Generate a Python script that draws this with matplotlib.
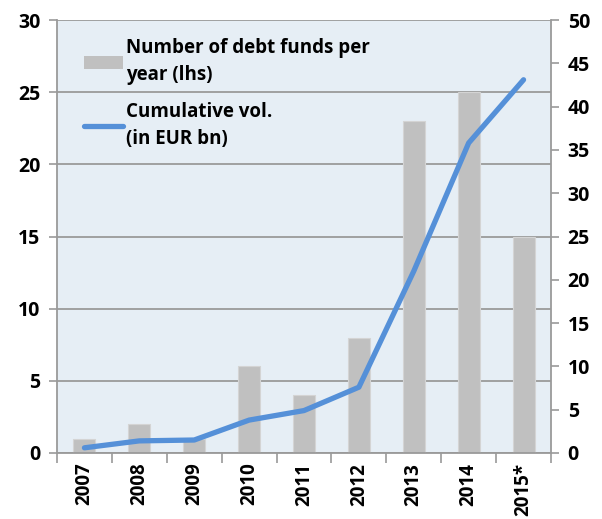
import matplotlib
matplotlib.use("Agg")
import matplotlib.pyplot as plt
from matplotlib.patches import Patch
from matplotlib.lines import Line2D
import numpy as np

years = ["2007", "2008", "2009", "2010", "2011", "2012", "2013", "2014", "2015*"]
funds = [1, 2, 1, 6, 4, 8, 23, 25, 15]
cum_vol = [0.6, 1.4, 1.5, 3.8, 4.9, 7.6, 21.0, 35.8, 43.1]
left_ticks = [0, 5, 10, 15, 20, 25, 30]
right_ticks = [0, 5, 10, 15, 20, 25, 30, 35, 40, 45, 50]

plt.rcParams['font.family'] = ['Open Sans', 'DejaVu Sans']
plt.rcParams['font.weight'] = 'bold'

fig = plt.figure(figsize=(6.02, 5.19), dpi=100)
ax = fig.add_axes([57/602, 1-453/519, (551-57)/602, (453-20)/519])
ax.set_facecolor("#e6eef5")
x = np.arange(len(years))
ax.bar(x, funds, width=0.4, color="#c0c0c0", edgecolor="#d4d4d4", linewidth=0.8, zorder=2)
ax.set_xlim(-0.5, len(years) - 0.5)
ax.set_ylim(0, 30)
ax.set_yticks(left_ticks)
ax.yaxis.grid(True, color="#9a9a9a", linewidth=1.3, zorder=1)
ax.set_axisbelow(True)
ax.set_xticks(x)
ax.set_xticklabels(years, rotation=90, fontsize=13.5, fontweight='bold')
ax.set_xticks(np.arange(-0.5, len(years), 1), minor=True)
ax.tick_params(axis='x', which='major', length=0, pad=7)
ax.tick_params(axis='x', which='minor', length=7, color="#9a9a9a", width=1.2)
ax.tick_params(axis='y', length=6, color="#9a9a9a", width=1.2, labelsize=14, pad=6)
for lab in ax.get_yticklabels():
    lab.set_fontweight('bold')
for s in ['left', 'right', 'bottom', 'top']:
    ax.spines[s].set_color("#9a9a9a")
    ax.spines[s].set_linewidth(1.3)
ax.spines['top'].set_visible(False)

ax2 = ax.twinx()
ax2.plot(x, cum_vol, color="#5590d8", linewidth=3.8, solid_capstyle='round', solid_joinstyle='round', zorder=3)
ax2.set_ylim(0, 50)
ax2.set_yticks(right_ticks)
ax2.tick_params(axis='y', length=6, color="#9a9a9a", width=1.2, labelsize=14, pad=6)
for lab in ax2.get_yticklabels():
    lab.set_fontweight('bold')
for s in ['left', 'right', 'bottom', 'top']:
    ax2.spines[s].set_visible(False)

handles = [Patch(facecolor="#c0c0c0", edgecolor="none"),
           Line2D([0], [0], color="#5590d8", linewidth=3.8, solid_capstyle='round')]
labels = ["Number of debt funds per\nyear (lhs)", "Cumulative vol.\n(in EUR bn)"]
leg = ax2.legend(handles, labels, loc='upper left', bbox_to_anchor=(0.02, 0.997), frameon=False,
                 prop={'size': 13.5, 'weight': 'bold'}, handlelength=2.1, handletextpad=0.15,
                 labelspacing=0.9)
for t in leg.get_texts():
    t.set_linespacing(1.45)

fig.savefig("out.png", dpi=100)
